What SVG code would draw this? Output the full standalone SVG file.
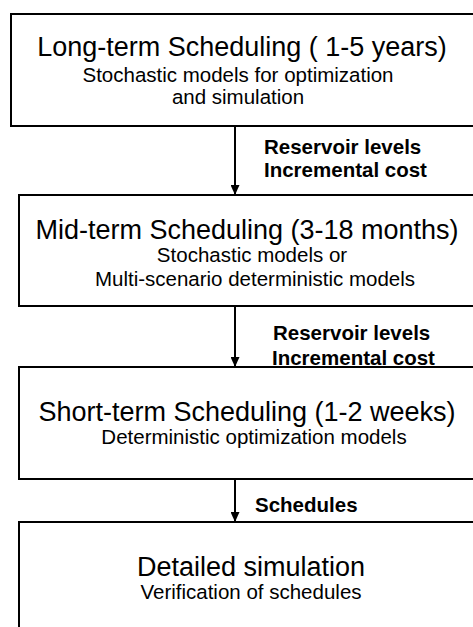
<svg xmlns="http://www.w3.org/2000/svg" width="473" height="627" viewBox="0 0 473 627">
<defs>
<style>
.box{fill:#fff;stroke:#000;stroke-width:2}
.t{font-family:"Liberation Sans",Arial,sans-serif;fill:#000;text-anchor:middle}
.h{font-size:27px}
.s{font-size:20.5px}
.l{font-family:"Liberation Sans",Arial,sans-serif;font-size:20.5px;font-weight:bold;fill:#000}
.c{stroke:#000;stroke-width:2;fill:none}
</style>
<marker id="ah" markerWidth="10" markerHeight="9" refX="10" refY="4.5" orient="auto" markerUnits="userSpaceOnUse">
<path d="M0,0 L10,4.5 L0,9 Z" fill="#000"/>
</marker>
</defs>
<g id="long-term">
<rect class="box" x="11" y="14" width="480" height="112"/>
<text class="t h" x="242" y="56">Long-term Scheduling ( 1-5 years)</text>
<text class="t s" x="238" y="82">Stochastic models for optimization</text>
<text class="t s" x="238" y="104">and simulation</text>
</g>
<g id="mid-term">
<rect class="box" x="19" y="195" width="480" height="111"/>
<text class="t h" x="247" y="239">Mid-term Scheduling (3-18 months)</text>
<text class="t s" x="252" y="262">Stochastic models or</text>
<text class="t s" x="255" y="286">Multi-scenario deterministic models</text>
</g>
<g id="short-term">
<rect class="box" x="19" y="367" width="480" height="112"/>
<text class="t h" x="247" y="421">Short-term Scheduling (1-2 weeks)</text>
<text class="t s" x="254" y="444">Deterministic optimization models</text>
</g>
<g id="detailed">
<rect class="box" x="19" y="522" width="480" height="120"/>
<text class="t h" x="251" y="576">Detailed simulation</text>
<text class="t s" x="251" y="599">Verification of schedules</text>
</g>
<g id="connectors">
<line class="c" x1="235" y1="126" x2="235" y2="195" marker-end="url(#ah)"/>
<line class="c" x1="235" y1="306" x2="235" y2="367" marker-end="url(#ah)"/>
<line class="c" x1="235" y1="479" x2="235" y2="522" marker-end="url(#ah)"/>
<text class="l" x="264" y="154">Reservoir levels</text>
<text class="l" x="264" y="177">Incremental cost</text>
<text class="l" x="273" y="340">Reservoir levels</text>
<text class="l" x="272" y="365">Incremental cost</text>
<text class="l" x="255" y="512">Schedules</text>
</g>
</svg>
